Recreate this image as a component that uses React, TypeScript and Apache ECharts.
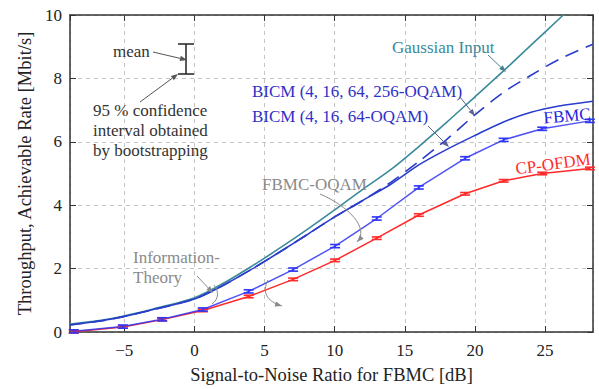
import React, { useEffect, useRef } from "react";
import * as echarts from "echarts";

// ---- data ----
const X_MIN = -8.87;
const X_MAX = 28.42;
const Y_TICKS = [0, 2, 4, 6, 8, 10];

const gaussianX = [-8.87, -6, -3, 0, 2, 4, 6, 8, 10, 12, 14, 16, 18, 20, 22, 24, 26.3];
const gaussianY = [0.25, 0.42, 0.72, 1.08, 1.52, 2.05, 2.62, 3.22, 3.85, 4.5, 5.12, 5.85, 6.62, 7.42, 8.22, 9.05, 10];

const theoryX = [-8.87, -6, -3, 0, 2, 4, 6, 8, 10, 12, 14, 16, 18, 20, 22, 24, 26, 28.42];
const bicm64Y = [0.22, 0.4, 0.7, 1.04, 1.46, 1.96, 2.5, 3.06, 3.63, 4.15, 4.66, 5.27, 5.76, 6.2, 6.62, 6.93, 7.13, 7.28];
const bicm256Y = [0.22, 0.4, 0.7, 1.04, 1.46, 1.96, 2.5, 3.06, 3.63, 4.15, 4.72, 5.38, 6.08, 6.85, 7.55, 8.1, 8.6, 9.08];

const measX = [-8.6, -5.1, -2.3, 0.6, 3.87, 7.04, 10.03, 13.0, 16.0, 19.3, 22.05, 24.8, 28.2];
const fbmcY = [0.02, 0.17, 0.4, 0.71, 1.28, 1.97, 2.71, 3.58, 4.56, 5.48, 6.06, 6.41, 6.66];
const ofdmY = [0.01, 0.16, 0.39, 0.68, 1.12, 1.66, 2.26, 2.96, 3.69, 4.36, 4.77, 5.0, 5.16];
const fbmcErr = [0.05, 0.05, 0.05, 0.05, 0.05, 0.05, 0.05, 0.05, 0.05, 0.05, 0.05, 0.05, 0.05];
const ofdmErr = [0.04, 0.04, 0.04, 0.04, 0.04, 0.04, 0.04, 0.04, 0.04, 0.04, 0.04, 0.04, 0.04];

const SERIF = '"Liberation Serif", "Times New Roman", serif';
const TEAL = "#3a8a9c";
const BLUE_T = "#2a3ccc";
const BLUE_M = "#2f35f5";
const RED = "#ff2a2a";

function arrow(x1: number, y1: number, x2: number, y2: number, color: string): any[] {
  const a = Math.atan2(y2 - y1, x2 - x1);
  const L = 7, W = 2.6;
  const bx = x2 - L * Math.cos(a), by = y2 - L * Math.sin(a);
  return [
    { type: "line", shape: { x1, y1, x2: bx, y2: by }, style: { stroke: color, lineWidth: 1 }, z: 100 },
    {
      type: "polygon",
      shape: { points: [[x2, y2], [bx - W * Math.sin(a), by + W * Math.cos(a)], [bx + W * Math.sin(a), by - W * Math.cos(a)]] },
      style: { fill: color },
      z: 100,
    },
  ];
}

function curveArrow(p: number[], color: string): any[] {
  const [x1, y1, c1x, c1y, c2x, c2y, x2, y2] = p;
  const a = Math.atan2(y2 - c2y, x2 - c2x);
  const L = 7, W = 2.6;
  const bx = x2 - L * Math.cos(a), by = y2 - L * Math.sin(a);
  return [
    { type: "bezierCurve", shape: { x1, y1, cpx1: c1x, cpy1: c1y, cpx2: c2x, cpy2: c2y, x2, y2 }, style: { stroke: color, lineWidth: 1, fill: null }, z: 100 },
    {
      type: "polygon",
      shape: { points: [[x2, y2], [bx - W * Math.sin(a), by + W * Math.cos(a)], [bx + W * Math.sin(a), by - W * Math.cos(a)]] },
      style: { fill: color },
      z: 100,
    },
  ];
}

function txt(text: string, x: number, y: number, color: string, opts: any = {}): any {
  return {
    type: "text",
    x,
    y,
    rotation: opts.rotation || 0,
    z: 100,
    style: {
      text,
      x: 0,
      y: 0,
      fill: color,
      fontSize: opts.fontSize || 17,
      fontFamily: SERIF,
      align: opts.align || "left",
      verticalAlign: "middle",
    },
  };
}

function errorSeries(xs: number[], ys: number[], es: number[], color: string, name: string): any {
  return {
    type: "custom",
    name,
    z: 5,
    data: xs.map((x, i) => [x, ys[i], es[i]]),
    renderItem: (params: any, api: any) => {
      const x = api.value(0), y = api.value(1), e = api.value(2);
      const top = api.coord([x, y + e]);
      const bot = api.coord([x, y - e]);
      const hw = 5;
      const st = { stroke: color, lineWidth: 1.6 };
      return {
        type: "group",
        children: [
          { type: "line", shape: { x1: top[0], y1: top[1], x2: bot[0], y2: bot[1] }, style: st },
          { type: "line", shape: { x1: top[0] - hw, y1: top[1], x2: top[0] + hw, y2: top[1] }, style: st },
          { type: "line", shape: { x1: bot[0] - hw, y1: bot[1], x2: bot[0] + hw, y2: bot[1] }, style: st },
        ],
      };
    },
  };
}

const zip = (xs: number[], ys: number[]) => xs.map((x, i) => [x, ys[i]]);

export default function App() {
  const ref = useRef<HTMLDivElement>(null);
  useEffect(() => {
    if (!ref.current) return;
    const chart = echarts.init(ref.current, undefined, { renderer: "svg" });
    const axisLine = { show: true, onZero: false, lineStyle: { color: "#333", width: 1.5 } };
    const tick = { show: true, inside: true, length: 6, lineStyle: { color: "#333", width: 1 } };
    const fmtX = (v: number) => {
      if (Math.abs(v - Math.round(v)) > 1e-6 || Math.round(v) % 5 !== 0) return "";
      return v < 0 ? "\u2212" + Math.abs(v) : String(v);
    };
    const option: any = {
      animation: false,
      backgroundColor: "#ffffff",
      grid: { left: 70, right: 6, top: 15, bottom: 52, containLabel: false },
      xAxis: [
        {
          type: "value",
          min: X_MIN,
          max: X_MAX,
          minInterval: 5,
          maxInterval: 5,
          position: "bottom",
          axisLine,
          axisTick: tick,
          axisLabel: {
            formatter: fmtX,
            showMinLabel: false,
            showMaxLabel: false,
            margin: 10,
            color: "#222",
            fontSize: 17,
            fontFamily: SERIF,
          },
          splitLine: { show: true, lineStyle: { color: "#c4c4c4", type: [4, 4], width: 1 } },
          name: "Signal-to-Noise Ratio for FBMC [dB]",
          nameLocation: "middle",
          nameGap: 33,
          nameTextStyle: { color: "#222", fontSize: 18.5, fontFamily: SERIF },
        },
        {
          type: "value",
          min: X_MIN,
          max: X_MAX,
          minInterval: 5,
          maxInterval: 5,
          position: "top",
          axisLine,
          axisTick: tick,
          axisLabel: { show: false },
          splitLine: { show: false },
        },
      ],
      yAxis: [
        {
          type: "value",
          min: Y_TICKS[0],
          max: Y_TICKS[Y_TICKS.length - 1],
          interval: 2,
          position: "left",
          axisLine,
          axisTick: tick,
          axisLabel: { margin: 8, color: "#222", fontSize: 17, fontFamily: SERIF },
          splitLine: { show: true, lineStyle: { color: "#c4c4c4", type: [4, 4], width: 1 } },
          name: "Throughput, Achievable Rate [Mbit/s]",
          nameLocation: "middle",
          nameGap: 33,
          nameTextStyle: { color: "#222", fontSize: 18.5, fontFamily: SERIF },
        },
        {
          type: "value",
          min: Y_TICKS[0],
          max: Y_TICKS[Y_TICKS.length - 1],
          interval: 2,
          position: "right",
          axisLine,
          axisTick: tick,
          axisLabel: { show: false },
          splitLine: { show: false },
        },
      ],
      series: [
        {
          type: "line",
          name: "Gaussian Input",
          data: zip(gaussianX, gaussianY),
          smooth: 0.3,
          showSymbol: false,
          lineStyle: { color: TEAL, width: 1.6 },
          z: 2,
        },
        {
          type: "line",
          name: "BICM (4, 16, 64, 256-OQAM)",
          data: zip(theoryX, bicm256Y),
          smooth: 0.3,
          showSymbol: false,
          lineStyle: { color: BLUE_T, width: 1.6, type: [14, 8] },
          z: 3,
        },
        {
          type: "line",
          name: "BICM (4, 16, 64-OQAM)",
          data: zip(theoryX, bicm64Y),
          smooth: 0.3,
          showSymbol: false,
          lineStyle: { color: BLUE_T, width: 1.6 },
          z: 3,
        },
        {
          type: "line",
          name: "CP-OFDM",
          data: zip(measX, ofdmY),
          smooth: false,
          showSymbol: false,
          lineStyle: { color: RED, width: 1.5 },
          z: 4,
        },
        {
          type: "line",
          name: "FBMC",
          data: zip(measX, fbmcY),
          smooth: false,
          showSymbol: false,
          lineStyle: { color: BLUE_M, width: 1.5, opacity: 0.85 },
          z: 4,
        },
        errorSeries(measX, ofdmY, ofdmErr, RED, "CP-OFDM CI"),
        errorSeries(measX, fbmcY, fbmcErr, BLUE_M, "FBMC CI"),
      ],
      graphic: [
        // sample error bar legend
        { type: "line", shape: { x1: 186, y1: 44, x2: 186, y2: 74 }, style: { stroke: "#222", lineWidth: 1.5 }, z: 100 },
        { type: "line", shape: { x1: 178, y1: 44, x2: 194, y2: 44 }, style: { stroke: "#222", lineWidth: 1.5 }, z: 100 },
        { type: "line", shape: { x1: 178, y1: 74, x2: 194, y2: 74 }, style: { stroke: "#222", lineWidth: 1.5 }, z: 100 },
        txt("mean", 113, 51, "#333"),
        ...arrow(153, 52, 187, 60, "#555"),
        ...arrow(140, 102, 178, 74, "#555"),
        txt("95 % confidence", 93, 110, "#333"),
        txt("interval obtained", 93, 130, "#333"),
        txt("by bootstrapping", 93, 150, "#333"),
        // labels
        txt("Gaussian Input", 392, 47, TEAL),
        ...arrow(488, 55, 506, 72, "#4a7f8c"),
        txt("BICM (4, 16, 64, 256-OQAM)", 252, 91, "#2f2fc8"),
        ...arrow(460, 97, 475, 116, "#5a6290"),
        txt("BICM (4, 16, 64-OQAM)", 252, 116, "#2f2fc8"),
        ...arrow(428, 126, 449, 147, "#5a6290"),
        txt("FBMC", 567, 116, "#2424e0", { align: "center", rotation: 0.09 }),
        txt("CP-OFDM", 553, 164, RED, { align: "center", rotation: 0.13 }),
        txt("FBMC-OQAM", 262, 184, "#8a8a8a"),
        ...curveArrow([320, 194, 348, 206, 370, 228, 357, 242], "#8a8a8a"),
        txt("Information-", 133, 257, "#8a8a8a"),
        txt("Theory", 133, 277, "#8a8a8a"),
        ...arrow(197, 276, 213, 293, "#8a8a8a"),
        { type: "bezierCurve", shape: { x1: 214, y1: 285, cpx1: 219, cpy1: 291, cpx2: 219, cpy2: 299, x2: 212, y2: 304 }, style: { stroke: "#8a8a8a", lineWidth: 1, fill: null }, z: 100 },
        ...curveArrow([268, 280, 262, 292, 266, 301, 282, 306], "#8a8a8a"),
      ],
    };
    chart.setOption(option);
    return () => chart.dispose();
  }, []);
  return (
    <div
      ref={ref}
      style={{ position: "fixed", left: 0, top: 0, width: 599, height: 389, background: "#fff" }}
    />
  );
}
